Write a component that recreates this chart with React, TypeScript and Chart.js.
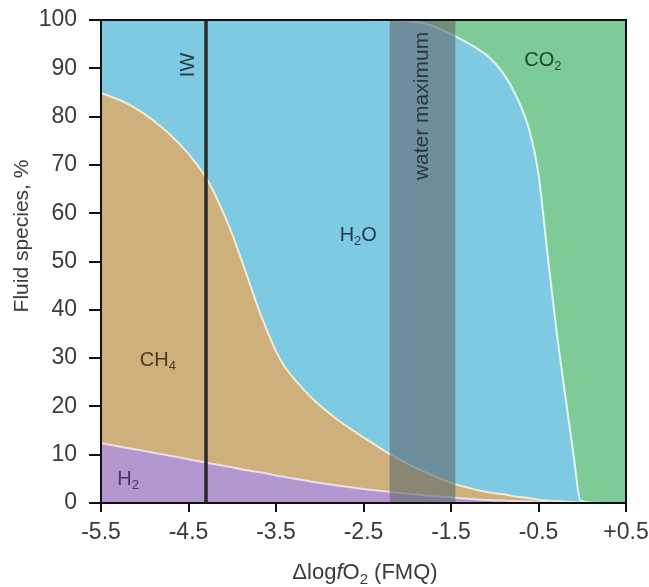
import React, { useEffect, useRef } from 'react';
import { Chart, registerables } from 'chart.js';

Chart.register(...registerables);

// ΔlogfO2 (FMQ) sample positions
const xValues = [-5.5, -5.2, -4.9, -4.6, -4.4, -4.25, -4.1, -4.0, -3.9, -3.8, -3.7, -3.6, -3.5, -3.4, -3.25, -3.05, -2.8, -2.5, -2.15, -1.8, -1.45, -1.07, -0.9, -0.75, -0.6, -0.5, -0.4, -0.3, -0.2, -0.1, -0.02, 0.2, 0.5];
// Fluid species, % (share of each species)
const h2 = [12.4, 11.4, 10.4, 9.4, 8.7, 8.2, 7.7, 7.4, 7.0, 6.7, 6.4, 6.1, 5.7, 5.4, 4.9, 4.3, 3.6, 2.9, 2.2, 1.6, 1.1, 0.6, 0.5, 0.4, 0.3, 0.2, 0.2, 0.1, 0.1, 0, 0, 0, 0];
const ch4 = [72.5, 71.3, 68.8, 64.9, 61.3, 57.6, 52.3, 48.2, 43.6, 38.7, 33.8, 29.5, 25.7, 22.8, 19.9, 16.7, 13.7, 10.7, 7.4, 4.8, 2.8, 1.6, 1.3, 0.9, 0.7, 0.5, 0.3, 0.3, 0.2, 0.2, 0.1, 0, 0];
const h2o = [15.1, 17.3, 20.8, 25.7, 30.0, 34.2, 40.0, 44.4, 49.4, 54.6, 59.8, 64.4, 68.6, 71.8, 75.2, 79.0, 82.7, 86.4, 90.3, 92.9, 92.7, 90.2, 87.1, 82.8, 75.9, 67.4, 51.5, 36.1, 22.7, 9.8, 0.4, 0, 0];
const co2 = [0, 0, 0, 0, 0, 0, 0, 0, 0, 0, 0, 0, 0, 0, 0, 0, 0, 0, 0.1, 0.7, 3.4, 7.6, 11.1, 15.9, 23.1, 31.9, 48.0, 63.5, 77.0, 90.0, 99.5, 100, 100];

const xTicks = [-5.5, -4.5, -3.5, -2.5, -1.5, -0.5, 0.5];
const yTicks = [0, 10, 20, 30, 40, 50, 60, 70, 80, 90, 100];

const iwLine = -4.3;
const waterMaxRange = [-2.2, -1.45];

type Seg = { t: string; sub?: boolean; italic?: boolean };

const FONT = '"Liberation Sans", Arial, Helvetica, sans-serif';

function drawRich(ctx: CanvasRenderingContext2D, segs: Seg[], cx: number, cy: number, size: number, color: string, rotate = 0) {
  ctx.save();
  ctx.translate(cx, cy);
  if (rotate) ctx.rotate(rotate);
  const fontFor = (s: Seg) => `${s.italic ? 'italic ' : ''}${s.sub ? Math.round(size * 0.66) : size}px ${FONT}`;
  let total = 0;
  const widths = segs.map((s) => {
    ctx.font = fontFor(s);
    const w = ctx.measureText(s.t).width;
    total += w;
    return w;
  });
  let x = -total / 2;
  ctx.fillStyle = color;
  ctx.textBaseline = 'middle';
  ctx.textAlign = 'left';
  segs.forEach((s, i) => {
    ctx.font = fontFor(s);
    ctx.fillText(s.t, x, s.sub ? size * 0.3 : 0);
    x += widths[i];
  });
  ctx.restore();
}

const speciesLabels: { segs: Seg[]; x: number; y: number; color: string }[] = [
  { segs: [{ t: 'H' }, { t: '2', sub: true }, { t: 'O' }], x: -2.56, y: 55.3, color: '#1d3a52' },
  { segs: [{ t: 'CH' }, { t: '4', sub: true }], x: -4.85, y: 29.6, color: '#4a3a20' },
  { segs: [{ t: 'H' }, { t: '2', sub: true }], x: -5.19, y: 4.8, color: '#4a3262' },
  { segs: [{ t: 'CO' }, { t: '2', sub: true }], x: -0.45, y: 91.7, color: '#1d4a2b' },
];

export default function App() {
  const ref = useRef<HTMLCanvasElement>(null);

  useEffect(() => {
    if (!ref.current) return;
    const c1 = h2.map((v) => v);
    const c2 = c1.map((v, i) => v + ch4[i]);
    const c3 = c2.map((v, i) => v + h2o[i]);
    const c4 = c3.map((v, i) => v + co2[i]);
    const pts = (arr: number[]) => xValues.map((x, i) => ({ x, y: arr[i] }));

    const common = {
      pointRadius: 0,
      pointHoverRadius: 0,
      cubicInterpolationMode: 'monotone' as const,
      borderWidth: 2,
    };

    const overlay = {
      id: 'overlay',
      afterDatasetsDraw(chart: any) {
        const ctx: CanvasRenderingContext2D = chart.ctx;
        const xs = chart.scales.x;
        const ys = chart.scales.y;
        const area = chart.chartArea;
        ctx.save();
        ctx.beginPath();
        ctx.rect(area.left, area.top, area.right - area.left, area.bottom - area.top);
        ctx.clip();
        const bx0 = xs.getPixelForValue(waterMaxRange[0]);
        const bx1 = xs.getPixelForValue(waterMaxRange[1]);
        ctx.fillStyle = 'rgba(98,106,112,0.62)';
        ctx.fillRect(bx0, area.top, bx1 - bx0, area.bottom - area.top);
        const ix = xs.getPixelForValue(iwLine);
        ctx.strokeStyle = '#2b2b2b';
        ctx.lineWidth = 3.5;
        ctx.beginPath();
        ctx.moveTo(ix, area.top);
        ctx.lineTo(ix, area.bottom);
        ctx.stroke();
        ctx.restore();

        drawRich(ctx, [{ t: 'IW' }], xs.getPixelForValue(-4.5), ys.getPixelForValue(90.7), 20, '#2a3a44', -Math.PI / 2);
        drawRich(ctx, [{ t: 'water maximum' }], (bx0 + bx1) / 2, ys.getPixelForValue(82.2), 21, '#2b3640', -Math.PI / 2);
        speciesLabels.forEach((l) => {
          drawRich(ctx, l.segs, xs.getPixelForValue(l.x), ys.getPixelForValue(l.y), 20, l.color);
        });
      },
      afterDraw(chart: any) {
        const ctx: CanvasRenderingContext2D = chart.ctx;
        const area = chart.chartArea;
        ctx.save();
        ctx.strokeStyle = '#111';
        ctx.lineWidth = 2;
        ctx.strokeRect(area.left, area.top, area.right - area.left, area.bottom - area.top);
        ctx.restore();
        drawRich(ctx, [{ t: 'Fluid species, %' }], 22, 236, 21, '#3a3a3a', -Math.PI / 2);
        drawRich(
          ctx,
          [{ t: 'Δlog' }, { t: 'f', italic: true }, { t: 'O' }, { t: '2', sub: true }, { t: ' (FMQ)' }],
          365,
          573,
          22,
          '#3a3a3a'
        );
      },
    };

    const chart = new Chart(ref.current, {
      type: 'line',
      data: {
        datasets: [
          { ...common, label: 'H2', data: pts(c1), backgroundColor: '#b397d0', borderColor: '#f1dde6', fill: 'origin' },
          { ...common, label: 'CH4', data: pts(c2), backgroundColor: '#cdb07b', borderColor: '#f4ecd2', fill: '-1' },
          { ...common, label: 'H2O', data: pts(c3), backgroundColor: '#7ecae3', borderColor: '#e2f4ef', fill: '-1' },
          { ...common, label: 'CO2', data: pts(c4), backgroundColor: '#7dcb96', borderColor: 'rgba(0,0,0,0)', borderWidth: 0, fill: '-1' },
        ],
      },
      options: {
        animation: false,
        responsive: false,
        devicePixelRatio: 1,
        layout: { padding: { left: 0, right: 23, top: 20, bottom: 0 } },
        plugins: {
          legend: { display: false },
          tooltip: { enabled: false },
          filler: { drawTime: 'beforeDatasetsDraw' },
        },
        scales: {
          x: {
            type: 'linear',
            min: -5.5,
            max: 0.5,
            afterBuildTicks: (s: any) => {
              s.ticks = xTicks.map((v) => ({ value: v }));
            },
            afterFit: (s: any) => {
              s.height = 84;
              s.paddingLeft = 0;
              s.paddingRight = 0;
            },
            grid: { drawOnChartArea: false, drawTicks: true, tickLength: 9, color: '#111', lineWidth: 2 },
            border: { display: false },
            ticks: {
              autoSkip: false,
              maxRotation: 0,
              padding: 7,
              color: '#3a3a3a',
              font: { family: 'Liberation Sans', size: 23 },
              callback: (v: any) => (Number(v) > 0 ? '+' + Number(v).toFixed(1) : Number(v).toFixed(1)),
            },
          },
          y: {
            type: 'linear',
            min: 0,
            max: 100,
            afterBuildTicks: (s: any) => {
              s.ticks = yTicks.map((v) => ({ value: v }));
            },
            afterFit: (s: any) => {
              s.width = 101;
              s.paddingTop = 0;
              s.paddingBottom = 0;
            },
            grid: { drawOnChartArea: false, drawTicks: true, tickLength: 12, color: '#111', lineWidth: 2 },
            border: { display: false },
            ticks: {
              autoSkip: false,
              padding: 12,
              color: '#3a3a3a',
              font: { family: 'Liberation Sans', size: 23 },
            },
          },
        },
      },
      plugins: [overlay],
    });

    return () => chart.destroy();
  }, []);

  return (
    <div style={{ position: 'fixed', left: 0, top: 0, width: 649, height: 587, background: '#fff' }}>
      <canvas ref={ref} width={649} height={587} style={{ width: 649, height: 587, display: 'block' }} />
    </div>
  );
}
